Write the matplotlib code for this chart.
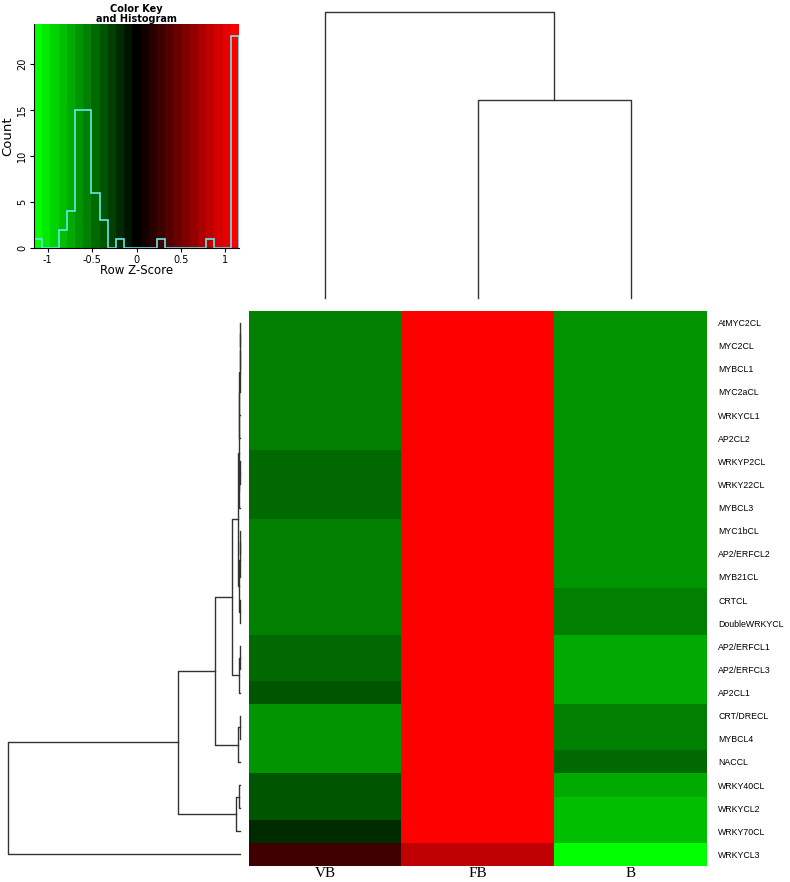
import matplotlib
matplotlib.use("Agg")
import matplotlib.pyplot as plt
from matplotlib.colors import ListedColormap, BoundaryNorm
import numpy as np

# row z-scores
genes = ["AtMYC2CL", "MYC2CL", "MYBCL1", "MYC2aCL", "WRKYCL1", "AP2CL2",
         "WRKYP2CL", "WRKY22CL", "MYBCL3", "MYC1bCL", "AP2/ERFCL2", "MYB21CL",
         "CRTCL", "DoubleWRKYCL", "AP2/ERFCL1", "AP2/ERFCL3", "AP2CL1",
         "CRT/DRECL", "MYBCL4", "NACCL", "WRKY40CL", "WRKYCL2", "WRKY70CL", "WRKYCL3"]
samples = ["VB", "FB", "B"]

vb = [-0.53, -0.53, -0.53, -0.53, -0.53, -0.53, -0.46, -0.46, -0.46, -0.53, -0.53, -0.53,
      -0.57, -0.57, -0.44, -0.44, -0.38, -0.63, -0.63, -0.68, -0.38, -0.34, -0.20, 0.28]
fb = [1.15, 1.15, 1.15, 1.15, 1.15, 1.15, 1.12, 1.12, 1.12, 1.15, 1.15, 1.15,
      1.15, 1.15, 1.15, 1.15, 1.13, 1.15, 1.15, 1.15, 1.14, 1.14, 1.10, 0.83]
b = [-0.62, -0.62, -0.62, -0.62, -0.62, -0.62, -0.66, -0.66, -0.66, -0.62, -0.62, -0.62,
     -0.58, -0.58, -0.71, -0.71, -0.75, -0.52, -0.52, -0.47, -0.76, -0.80, -0.85, -1.11]

# row dendrogram merges: (left, right, height); leaves 0..23, new clusters from 24
row_merges = [(0, 1, 0.3), (24, 2, 0.4), (25, 3, 0.5), (26, 4, 0.6), (27, 5, 0.8),
              (6, 7, 0.3), (29, 8, 0.6), (28, 30, 1.5),
              (9, 10, 0.3), (32, 11, 0.5), (12, 13, 0.4), (33, 34, 0.8),
              (31, 35, 2.5),
              (14, 15, 0.2), (37, 16, 1.3), (36, 38, 8.5),
              (17, 18, 0.5), (40, 19, 2.0), (39, 41, 25.0),
              (20, 21, 1.0), (43, 22, 4.0), (42, 44, 62.0),
              (45, 23, 232.0)]
# column dendrogram merges
col_merges = [(1, 2, 1.98), (0, 3, 2.86)]

W, H = 790, 882
zmax = 2 / np.sqrt(3)
nbreaks = 25


def rect(x0, y0, x1, y1):
    return [x0 / W, 1 - y1 / H, (x1 - x0) / W, (y1 - y0) / H]


def redgreen(n):
    half = n // 2
    cols = []
    for i in range(n):
        if i <= half:
            cols.append((0, (half - i) / half, 0))
        else:
            cols.append(((i - half) / half, 0, 0))
    return cols


def draw_dendro(ax, merges, n, horizontal):
    pos = {i: float(i) for i in range(n)}
    hgt = {i: 0.0 for i in range(n)}
    for k, (l, r, h) in enumerate(merges):
        xs = [pos[l], pos[l], pos[r], pos[r]]
        ys = [hgt[l], h, h, hgt[r]]
        if horizontal:
            ax.plot(ys, xs, color="#333333", lw=1, clip_on=False)
        else:
            ax.plot(xs, ys, color="#333333", lw=1, clip_on=False)
        pos[n + k] = (pos[l] + pos[r]) / 2
        hgt[n + k] = h


data = np.array([vb, fb, b]).T
edges = np.linspace(-zmax, zmax, nbreaks + 1)
cmap = ListedColormap(redgreen(nbreaks))
norm = BoundaryNorm(edges, nbreaks)

fig = plt.figure(figsize=(W / 100, H / 100), dpi=100)

# heatmap
ax = fig.add_axes(rect(249, 311, 707, 866))
ax.imshow(data, aspect="auto", cmap=cmap, norm=norm, interpolation="nearest")
for s in ax.spines.values():
    s.set_visible(False)
ax.set_xticks(range(len(samples)))
ax.set_xticklabels(samples, family="Liberation Serif", fontsize=11)
ax.tick_params(axis="x", length=0, pad=1)
ax.yaxis.tick_right()
ax.set_yticks(range(len(genes)))
ax.set_yticklabels(genes, family="Liberation Sans", fontsize=6.3)
ax.tick_params(axis="y", length=0, pad=8)

# row dendrogram
axr = fig.add_axes(rect(8, 311, 240, 866))
draw_dendro(axr, row_merges, len(genes), True)
axr.set_xlim(232, 0)
axr.set_ylim(len(genes) - 0.5, -0.5)
axr.axis("off")

# column dendrogram
axc = fig.add_axes(rect(249, 12, 707, 298))
draw_dendro(axc, col_merges, len(samples), False)
axc.set_xlim(-0.5, len(samples) - 0.5)
axc.set_ylim(0, 2.86)
axc.axis("off")

# colour key with histogram
axk = fig.add_axes(rect(34, 24, 239, 248))
axk.imshow(np.linspace(-zmax, zmax, nbreaks)[None, :], aspect="auto", cmap=cmap, norm=norm,
           extent=(-zmax, zmax, 0, 24.3), interpolation="nearest", zorder=0)
counts, _ = np.histogram(data.ravel(), bins=edges)
axk.stairs(counts, edges, color="#66e8e8", lw=1.2, baseline=0)
axk.set_xlim(-zmax, zmax)
axk.set_ylim(0, 24.3)
axk.set_xticks([-1, -0.5, 0, 0.5, 1])
axk.set_xticklabels(["-1", "-0.5", "0", "0.5", "1"])
axk.set_yticks([0, 5, 10, 15, 20])
axk.set_yticklabels(["0", "5", "10", "15", "20"], rotation=90, va="center")
axk.tick_params(labelsize=7, length=3, pad=2)
for side in ["top", "right"]:
    axk.spines[side].set_visible(False)
axk.set_xlabel("Row Z-Score", fontsize=8.5, labelpad=-1)
axk.set_ylabel("Count", fontsize=9.5, labelpad=2)
fig.text(136.5 / W, 1 - 14 / H, "Color Key\nand Histogram", ha="center", va="center",
         fontsize=7, fontweight="bold", linespacing=1.1)

fig.savefig("out.png", dpi=100)
